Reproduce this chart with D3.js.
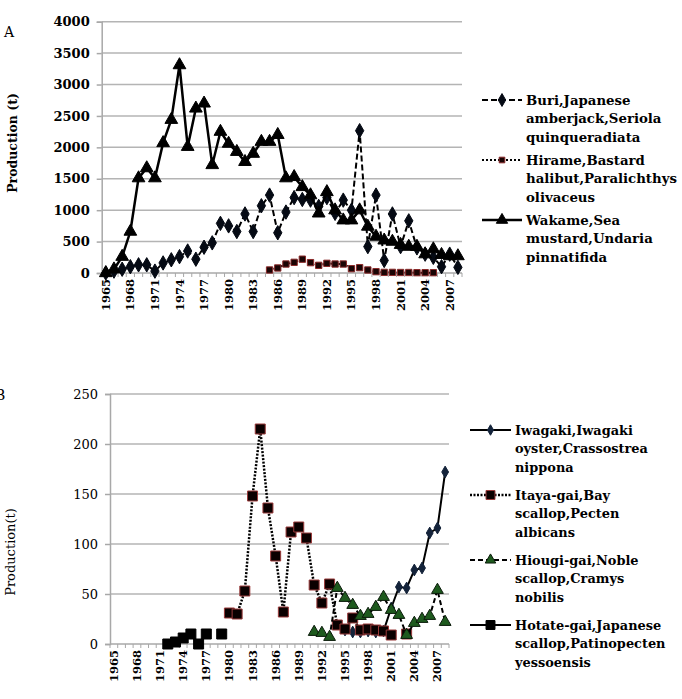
<!DOCTYPE html>
<html>
<head>
<meta charset="utf-8">
<script src="https://cdn.jsdelivr.net/npm/d3@7"></script>
<style>
  body { margin: 0; background: #fff; }
  svg { display: block; font-family: "DejaVu Serif", serif; }
</style>
</head>
<body>
<svg id="chart" width="682" height="699"></svg>
<script>
// categories (both panels share them)
var years = d3.range(1965, 2009);
var tickYears = [1965, 1968, 1971, 1974, 1977, 1980, 1983, 1986, 1989, 1992, 1995, 1998, 2001, 2004, 2007];

// panel A series, values start at the given year
var buriStart = 1965;
var buri = [0, 30, 60, 100, 130, 130, 30, 160, 210, 260, 350, 220, 410, 480, 790, 750, 660, 940, 660, 1070,
  1240, 640, 970, 1200, 1170, 1160, 1060, 1200, 950, 1160, 1000, 2265, 420, 1240, 200, 940, 420, 830, 400, 300,
  250, 100, 300, 90];
var hirameStart = 1985;
var hirame = [48, 80, 143, 170, 220, 165, 122, 154, 143, 143, 69, 85, 48, 21, 10, 10, 8, 8, 5, 5, 5];
var wakameStart = 1965;
var wakame = [0, 60, 260, 660, 1510, 1670, 1510, 2070, 2440, 3310, 2010, 2620, 2700, 1720, 2250, 2060, 1930, 1770,
  1900, 2090, 2090, 2200, 1510, 1530, 1370, 1240, 950, 1290, 1000, 840, 840, 1000, 740, 580, 520, 500, 450, 420,
  420, 300, 380, 290, 270, 270];
var yTicksA = [0, 500, 1000, 1500, 2000, 2500, 3000, 3500, 4000];

// panel B series
var iwagakiStart = 1995;
var iwagaki = [14, 12, 12, 13, 12, 13, 36, 57, 56, 74, 76, 111, 116, 172];
var itayaStart = 1980;
var itaya = [31, 30, 53, 148, 215, 136, 88, 32, 112, 117, 106, 59, 41, 60, 19, 15, 26, 14, 15, 14, 13, 9, null, 10];
var hiougiStart = 1991;
var hiougi = [12, 11, 7, 56, 46, 39, 28, 30, 37, 47, 34, 29, 9, 21, 25, 28, 54, 22];
var hotateStart = 1972;
var hotate = [0, 2, 6, 10, 0, 10, null, 10];
var yTicksB = [0, 50, 100, 150, 200, 250];

function toPoints(start, vals) {
  return vals.map(function(v, i) { return { year: start + i, v: v }; });
}

var svg = d3.select('#chart');

function drawPanel(p) {
  var x = d3.scaleBand().domain(years).range([p.x0, p.x1]);
  var y = d3.scaleLinear().domain([0, p.ymax]).range([p.y0, p.y1]);
  var g = svg.append('g');

  // gridlines
  g.selectAll('.grid').data(p.yTicks.slice(1)).enter().append('line')
    .attr('x1', p.x0).attr('x2', p.x1)
    .attr('y1', function(d) { return y(d); }).attr('y2', function(d) { return y(d); })
    .attr('stroke', '#b4b4b4').attr('stroke-width', 1.5);

  // y axis
  var ya = g.append('g').attr('transform', 'translate(' + p.x0 + ',0)')
    .call(d3.axisLeft(y).tickValues(p.yTicks).tickFormat(d3.format('d')).tickSize(5).tickPadding(7));
  ya.select('.domain').attr('stroke', '#a8a8a8').attr('stroke-width', 1.5);
  ya.selectAll('.tick line').attr('stroke', '#a8a8a8').attr('stroke-width', 1.5);
  ya.selectAll('text').attr('font-family', '"DejaVu Serif", serif').attr('font-size', p.yFont)
    .attr('font-weight', p.yWeight).attr('fill', '#000');

  // x axis: ticks on category boundaries
  var xa = g.append('g').attr('transform', 'translate(0,' + p.y0 + ')');
  xa.append('line').attr('x1', p.x0).attr('x2', p.x1).attr('stroke', '#a8a8a8').attr('stroke-width', 1.5);
  xa.selectAll('.xt').data(years.concat([2009])).enter().append('line')
    .attr('x1', function(d) { return d === 2009 ? p.x1 : x(d); })
    .attr('x2', function(d) { return d === 2009 ? p.x1 : x(d); })
    .attr('y1', 0).attr('y2', 4).attr('stroke', '#a8a8a8').attr('stroke-width', 1);
  xa.selectAll('.xl').data(tickYears).enter().append('text')
    .attr('transform', function(d) {
      return 'translate(' + (x(d) + x.bandwidth() / 2) + ',6) rotate(-90)';
    })
    .attr('text-anchor', 'end').attr('dy', '0.35em')
    .attr('font-size', 11.5).attr('font-weight', 'bold')
    .text(function(d) { return d; });

  // series
  p.series.forEach(function(s) {
    var pts = toPoints(s.start, s.values);
    var line = d3.line()
      .defined(function(d) { return d.v !== null; })
      .x(function(d) { return x(d.year) + x.bandwidth() / 2; })
      .y(function(d) { return y(d.v); });
    g.append('path').datum(pts).attr('d', line)
      .attr('fill', 'none').attr('stroke', '#000')
      .attr('stroke-width', s.width).attr('stroke-dasharray', s.dash);
    g.selectAll(null).data(pts.filter(function(d) { return d.v !== null; })).enter().append('path')
      .attr('d', d3.symbol().type(s.symbol).size(s.size))
      .attr('transform', function(d) {
        return 'translate(' + (x(d.year) + x.bandwidth() / 2) + ',' + y(d.v) + ')';
      })
      .attr('fill', s.fill).attr('stroke', s.stroke).attr('stroke-width', 1);
  });

  // legend
  p.series.forEach(function(s, i) {
    var ly = p.legY[i];
    var lg = svg.append('g');
    lg.append('line').attr('x1', p.legX0).attr('x2', p.legX1).attr('y1', ly).attr('y2', ly)
      .attr('stroke', '#000').attr('stroke-width', s.width).attr('stroke-dasharray', s.dash);
    lg.append('path').attr('d', d3.symbol().type(s.symbol).size(s.size * 0.8))
      .attr('transform', 'translate(' + (p.legX0 + p.legX1) / 2 + ',' + ly + ')')
      .attr('fill', s.fill).attr('stroke', s.stroke);
    var t = lg.append('text').attr('y', ly)
      .attr('font-size', p.legFont).attr('font-weight', 'bold');
    s.label.forEach(function(l, j) {
      t.append('tspan').attr('x', p.legX1 + 4).attr('dy', j === 0 ? '0.35em' : 18.5).text(l);
    });
  });

  // axis title
  svg.append('text')
    .attr('transform', 'translate(' + p.titleX + ',' + p.titleY + ') rotate(-90)')
    .attr('text-anchor', 'middle').attr('font-size', p.titleFont).attr('font-weight', p.titleWeight)
    .text(p.title);
  svg.append('text').attr('x', p.letterX).attr('y', p.letterY).attr('font-size', 14).text(p.letter);
}

drawPanel({
  x0: 101.7, x1: 462, y0: 273, y1: 21.7, ymax: 4000, yTicks: yTicksA,
  yFont: 13, yWeight: 'bold',
  title: 'Production (t)', titleX: 17, titleY: 143, titleFont: 12.5, titleWeight: 'bold',
  letter: 'A', letterX: 4, letterY: 37,
  legX0: 482, legX1: 522, legY: [100, 160, 220], legFont: 13.3,
  series: [
    { label: ['Buri,Japanese', 'amberjack,Seriola', 'quinqueradiata'], start: buriStart, values: buri,
      symbol: d3.symbolDiamond, size: 60, fill: '#050a14', stroke: '#050a14', width: 2, dash: '6,3' },
    { label: ['Hirame,Bastard', 'halibut,Paralichthys', 'olivaceus'], start: hirameStart, values: hirame,
      symbol: d3.symbolSquare, size: 40, fill: '#1a0505', stroke: '#8b2a2a', width: 2, dash: '2,2' },
    { label: ['Wakame,Sea', 'mustard,Undaria', 'pinnatifida'], start: wakameStart, values: wakame,
      symbol: d3.symbolTriangle, size: 70, fill: '#000', stroke: '#000', width: 2.5, dash: null }
  ]
});

drawPanel({
  x0: 110, x1: 449, y0: 644, y1: 394, ymax: 250, yTicks: yTicksB,
  yFont: 13, yWeight: 'normal',
  title: 'Production(t)', titleX: 15, titleY: 552, titleFont: 13, titleWeight: 'normal',
  letter: 'B', letterX: -5, letterY: 400,
  legX0: 470, legX1: 511, legY: [430, 495, 560, 625], legFont: 12.9,
  series: [
    { label: ['Iwagaki,Iwagaki', 'oyster,Crassostrea', 'nippona'], start: iwagakiStart, values: iwagaki,
      symbol: d3.symbolDiamond, size: 40, fill: '#14233a', stroke: '#14233a', width: 2, dash: null },
    { label: ['Itaya-gai,Bay', 'scallop,Pecten', 'albicans'], start: itayaStart, values: itaya,
      symbol: d3.symbolSquare, size: 100, fill: '#0a0000', stroke: '#9a3a3a', width: 2.5, dash: '2,1.5' },
    { label: ['Hiougi-gai,Noble', 'scallop,Cramys', 'nobilis'], start: hiougiStart, values: hiougi,
      symbol: d3.symbolTriangle, size: 60, fill: '#1e5a1e', stroke: '#0a1a0a', width: 2, dash: '5,3' },
    { label: ['Hotate-gai,Japanese', 'scallop,Patinopecten', 'yessoensis'], start: hotateStart, values: hotate,
      symbol: d3.symbolSquare, size: 100, fill: '#000', stroke: '#000', width: 2, dash: null }
  ]
});
</script>
</body>
</html>
